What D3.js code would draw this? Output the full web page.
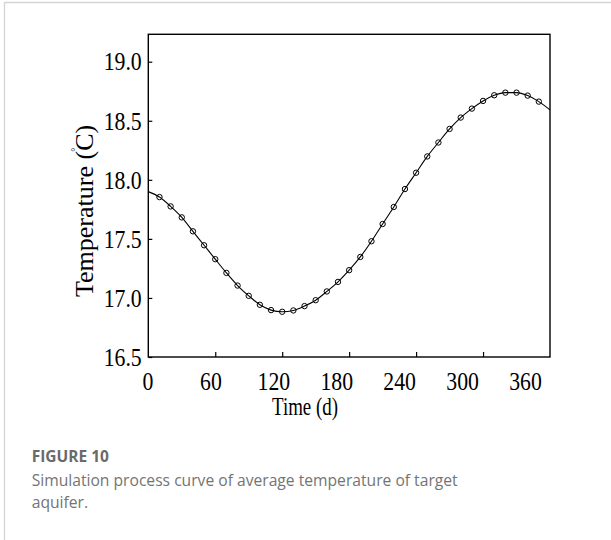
<!DOCTYPE html>
<html><head><meta charset="utf-8">
<script src="https://cdn.jsdelivr.net/npm/d3@7"></script>
<style>
html,body{margin:0;padding:0;background:#fff;}
svg{display:block;}
</style></head>
<body>
<script>
// ---- data ----
const days = [0,10,20,30,40,50,60,70,80,90,100,110,120,130,140,150,160,170,180,190,200,210,220,230,240,250,260,270,280,290,300,310,320,330,340,350,360];
const temps = [17.90,17.854,17.775,17.682,17.564,17.446,17.328,17.212,17.105,17.018,16.942,16.897,16.883,16.894,16.931,16.981,17.055,17.136,17.235,17.347,17.480,17.626,17.770,17.922,18.060,18.198,18.316,18.431,18.527,18.603,18.668,18.716,18.738,18.738,18.713,18.662,18.592];
const markerDays = [10,20,30,40,50,60,70,80,90,100,110,120,130,140,150,160,170,180,190,200,210,220,230,240,250,260,270,280,290,300,310,320,330,340,350];
const xTicks = [0,60,120,180,240,300,360];
const yTicks = [16.5,17.0,17.5,18.0,18.5,19.0];
const xTitle = "Time (d)";
const yTitle = "Temperature (";
const figLabel = "FIGURE 10";
const captionLines = ["Simulation process curve of average temperature of target","aquifer."];

const W = 611, H = 540;
const svg = d3.select("body").append("svg").attr("width", W).attr("height", H);

// page frame
svg.append("line").attr("x1",4.5).attr("x2",4.5).attr("y1",2).attr("y2",H).attr("stroke","#d4d4d4").attr("stroke-width",1.3);
svg.append("line").attr("x1",4).attr("x2",W).attr("y1",2.5).attr("y2",2.5).attr("stroke","#d4d4d4").attr("stroke-width",1.3);

const L = 148.3, R = 550, T = 34.3, B = 357;
const x = d3.scaleLinear().domain([0,360]).range([L,R]);
const xLab = d3.scaleLinear().domain([0,360]).range([147.5,525]);
const y = d3.scaleLinear().domain([16.5,19.232]).range([B,T]);

const serif = "'Liberation Serif','Times New Roman',serif";

// x axis ticks (inward)
const gx = svg.append("g").attr("transform",`translate(0,${B})`)
  .call(d3.axisBottom(x).tickValues(xTicks.filter(d=>d>0 && d<360)).tickSize(-5).tickFormat(""));
gx.select(".domain").remove();
gx.selectAll("line").attr("stroke","#000").attr("stroke-width",1.2);

// x labels
const gxl = svg.append("g").attr("transform",`translate(0,${B})`)
  .call(d3.axisBottom(xLab).tickValues(xTicks).tickSize(0).tickFormat(d3.format("d")));
gxl.select(".domain").remove();
gxl.selectAll("text").attr("y",33).attr("dy",0)
  .attr("font-family",serif).attr("font-size",25).attr("fill","#000")
  .attr("transform","scale(0.87,1)");

// y axis
const gy = svg.append("g").attr("transform",`translate(${L},0)`)
  .call(d3.axisLeft(y).tickValues(yTicks).tickSize(-4).tickPadding(7.6).tickFormat(d3.format(".1f")));
gy.select(".domain").remove();
gy.selectAll("line").attr("stroke","#000").attr("stroke-width",1.2);
gy.selectAll("text").attr("font-family",serif).attr("font-size",25).attr("fill","#000")
  .attr("dy","0.33em").attr("transform","scale(0.87,1)");

// frame
svg.append("rect").attr("x",L).attr("y",T).attr("width",R-L).attr("height",B-T)
  .attr("fill","none").attr("stroke","#000").attr("stroke-width",1.4);

// line
const pts = days.map((d,i)=>({d, t: temps[i]}));
svg.append("path").datum(pts)
  .attr("fill","none").attr("stroke","#000").attr("stroke-width",1.1)
  .attr("d", d3.line().x(p=>x(p.d)).y(p=>y(p.t)).curve(d3.curveMonotoneX));

// markers
const mk = pts.filter(p=>markerDays.includes(p.d));
svg.append("g").selectAll("circle").data(mk).join("circle")
  .attr("cx",p=>x(p.d)).attr("cy",p=>y(p.t)).attr("r",2.7)
  .attr("fill","none").attr("stroke","#000").attr("stroke-width",1);

// x title
svg.append("text").attr("transform","translate(305,414.7) scale(0.77,1)")
  .attr("text-anchor","middle").attr("font-family",serif).attr("font-size",24.5).attr("fill","#000")
  .text(xTitle);

// y title
const yt = svg.append("text").attr("transform","translate(92.7,297) rotate(-90)")
  .attr("text-anchor","start").attr("font-family",serif).attr("font-size",26).attr("fill","#000");
yt.append("tspan").text(yTitle);
yt.append("tspan").attr("font-size",10).attr("dx",-1).attr("dy",-14).text("°");
yt.append("tspan").attr("dx",-3).attr("dy",14).text("C)");

// caption
const sans = "'Open Sans','Noto Sans',sans-serif";
svg.append("text").attr("x",31.7).attr("y",461.7).attr("font-family",sans).attr("font-weight",700)
  .attr("font-size",15.5).attr("fill","#6a6a6a").text(figLabel);
captionLines.forEach((s,i)=>{
  svg.append("text").attr("x",31.7).attr("y",486+i*22.3).attr("font-family",sans)
    .attr("font-size",15.65).attr("fill","#747474").text(s);
});
</script>
</body></html>
